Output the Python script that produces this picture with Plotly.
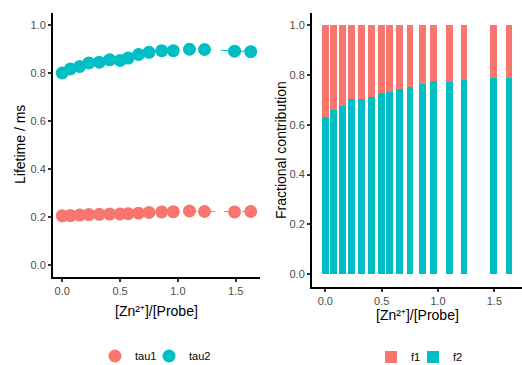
import plotly.graph_objects as go

# ---- data ----
ratio = [0.0, 0.07, 0.15, 0.23, 0.32, 0.41, 0.50, 0.57, 0.66, 0.75, 0.86, 0.96, 1.10, 1.23, 1.49, 1.63]
tau1 = [0.205, 0.206, 0.208, 0.210, 0.211, 0.212, 0.213, 0.214, 0.216, 0.219, 0.221, 0.222, 0.225, 0.223, 0.221, 0.223]
tau2 = [0.800, 0.817, 0.827, 0.842, 0.845, 0.855, 0.852, 0.862, 0.877, 0.886, 0.893, 0.893, 0.899, 0.898, 0.891, 0.889]
f2 = [0.631, 0.660, 0.675, 0.704, 0.704, 0.712, 0.730, 0.734, 0.746, 0.753, 0.765, 0.777, 0.773, 0.782, 0.787, 0.789]
f1 = [round(1 - v, 3) for v in f2]
x_ticks = [0.0, 0.5, 1.0, 1.5]
y_ticks = [0.0, 0.2, 0.4, 0.6, 0.8, 1.0]

RED = "#F8766D"
TEAL = "#00BFC4"
W, H = 522, 365
FONT = "Liberation Sans, Arial, sans-serif"


def px(x):
    return x / W


def py(y):
    return 1 - y / H


fig = go.Figure()

for vals, col in [(tau1, RED), (tau2, TEAL)]:
    fig.add_trace(go.Scatter(x=ratio, y=vals, mode="lines", showlegend=False,
                             line=dict(color=col, width=1, dash="dash"),
                             hoverinfo="skip", xaxis="x", yaxis="y"))
for name, vals, col, leg in [("tau1", tau1, RED, "legend"), ("tau2", tau2, TEAL, "legend2")]:
    fig.add_trace(go.Scatter(x=ratio, y=vals, mode="markers", name=name,
                             marker=dict(color=col, size=13),
                             xaxis="x", yaxis="y", legend=leg))

fig.add_trace(go.Bar(x=ratio, y=f2, name="f2", marker=dict(color=TEAL, line=dict(width=0)),
                     width=0.059, xaxis="x2", yaxis="y2", legend="legend4"))
fig.add_trace(go.Bar(x=ratio, y=f1, name="f1", marker=dict(color=RED, line=dict(width=0)),
                     width=0.059, xaxis="x2", yaxis="y2", legend="legend3"))

axis_common = dict(showline=True, linecolor="black", linewidth=2, mirror=False,
                   showgrid=False, zeroline=False, ticks="outside", ticklen=3,
                   tickwidth=2, tickcolor="#333333",
                   tickfont=dict(family=FONT, size=11, color="#4D4D4D"))


def leg(sym_x, y):
    return dict(orientation="h", x=px(sym_x - 20), xanchor="left", y=py(y), yanchor="middle",
                font=dict(family=FONT, size=11, color="black"), bgcolor="rgba(0,0,0,0)")


fig.update_layout(
    width=W, height=H, margin=dict(l=0, r=0, t=0, b=0, autoexpand=False),
    paper_bgcolor="white", plot_bgcolor="white",
    barmode="stack",
    font=dict(family=FONT),
    xaxis=dict(domain=[px(53), px(260)], range=[-0.08, 1.71], tickvals=x_ticks,
               tickformat=".1f", anchor="y", **axis_common),
    yaxis=dict(domain=[py(277), py(13)], range=[-0.05, 1.05], tickvals=y_ticks,
               tickformat=".1f", anchor="x", **axis_common),
    xaxis2=dict(domain=[px(312), 1.0], range=[-0.118, 1.745], tickvals=x_ticks,
                tickformat=".1f", anchor="y2", **axis_common),
    yaxis2=dict(domain=[py(286.5), py(13)], range=[-0.05, 1.05], tickvals=y_ticks,
                tickformat=".1f", anchor="x2", **axis_common),
    legend=leg(115, 356),
    legend2=leg(169, 356),
    legend3=leg(391, 357),
    legend4=leg(433, 357),
)

title_font = dict(family=FONT, size=14, color="black")
annos = [
    dict(text="Lifetime / ms", x=px(20), y=py(145), textangle=-90),
    dict(text="Fractional contribution", x=px(281), y=py(150), textangle=-90),
    dict(text="[Zn²⁺]/[Probe]", x=px(156.5), y=py(311), textangle=0),
    dict(text="[Zn²⁺]/[Probe]", x=px(417), y=py(315), textangle=0),
]
for a in annos:
    fig.add_annotation(xref="paper", yref="paper", showarrow=False, font=title_font,
                       xanchor="center", yanchor="middle", **a)

fig.write_html("out.html", config={"displayModeBar": False},
               post_script="document.body.style.margin='0';document.body.style.overflow='hidden';")
